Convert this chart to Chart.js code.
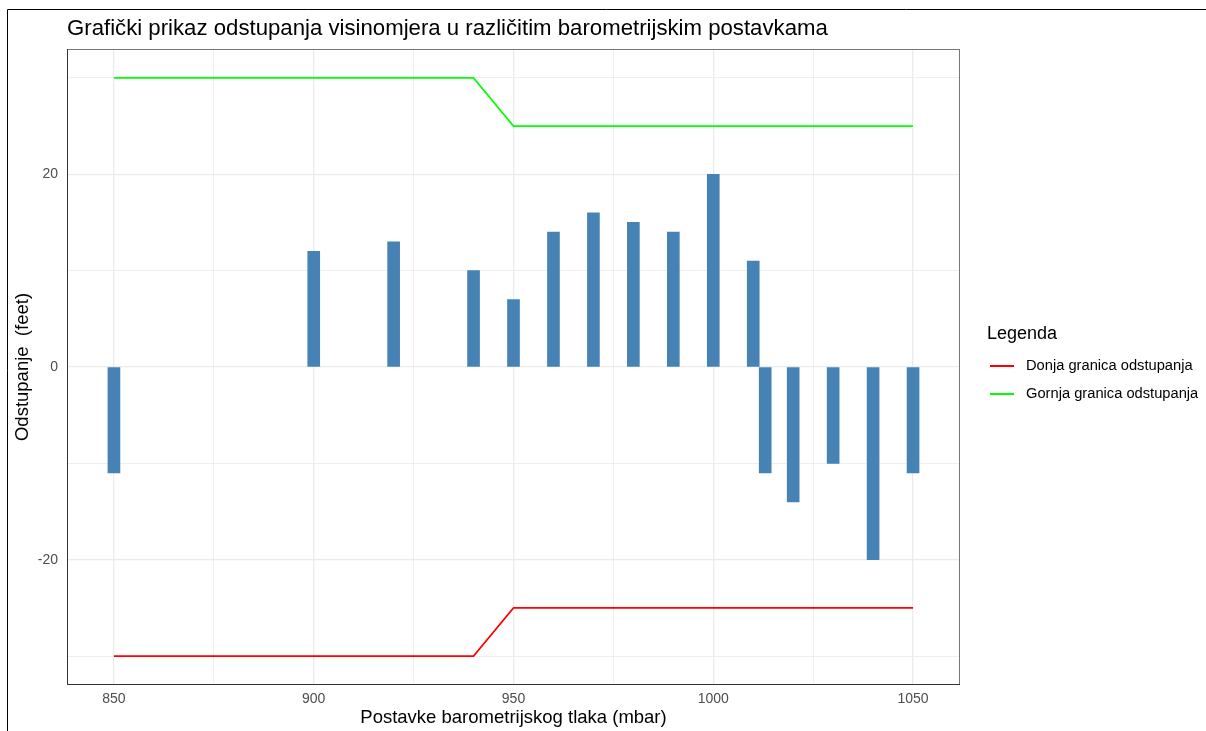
<!DOCTYPE html>
<html>
<head>
<meta charset="utf-8">
<script src="https://cdn.jsdelivr.net/npm/chart.js@4"></script>
<style>
  html, body { margin: 0; padding: 0; background: #fff; }
  #wrap { width: 1206px; height: 731px; position: relative; }
</style>
</head>
<body>
<div id="wrap"><canvas id="myChart" width="1206" height="731"></canvas></div>
<script>
// data
const pressures = [850, 900, 920, 940, 950, 960, 970, 980, 990, 1000, 1010, 1013, 1020, 1030, 1040, 1050];
const deviations = [-11, 12, 13, 10, 7, 14, 16, 15, 14, 20, 11, -11, -14, -10, -20, -11];
const lowerLimit = [-30, -30, -30, -30, -25, -25, -25, -25, -25, -25, -25, -25, -25, -25, -25, -25];
const upperLimit = [30, 30, 30, 30, 25, 25, 25, 25, 25, 25, 25, 25, 25, 25, 25, 25];

const xTicks = [850, 875, 900, 925, 950, 975, 1000, 1025, 1050];
const xLabeled = [850, 900, 950, 1000, 1050];
const yTicks = [-30, -20, -10, 0, 10, 20, 30];
const yLabeled = [-20, 0, 20];

const chartTitle = 'Grafički prikaz odstupanja visinomjera u različitim barometrijskim postavkama';
const xTitle = 'Postavke barometrijskog tlaka (mbar)';
const yTitle = 'Odstupanje  (feet)';
const legendTitle = 'Legenda';
const legendLabels = ['Donja granica odstupanja', 'Gornja granica odstupanja'];
const legendColors = ['#ff0000', '#00ff00'];

const FONT = '"Liberation Sans", Arial, sans-serif';

function pts(ys) {
  return pressures.map((p, i) => ({ x: p, y: ys[i] }));
}

function isMajor(c, list) {
  return c.tick && list.includes(c.tick.value);
}

// title, axis titles, legend and frame
const decorPlugin = {
  id: 'decor',
  beforeDraw(chart) {
    const ctx = chart.ctx;
    ctx.save();
    ctx.fillStyle = '#fff';
    ctx.fillRect(0, 0, chart.width, chart.height);
    ctx.restore();
  },
  afterDraw(chart) {
    const ctx = chart.ctx;
    const a = chart.chartArea;
    ctx.save();

    // panel border
    ctx.strokeStyle = '#777';
    ctx.lineWidth = 1;
    ctx.strokeRect(a.left + 0.5, a.top + 0.5, a.right - a.left - 1, a.bottom - a.top - 1);
    ctx.strokeStyle = '#333';
    ctx.beginPath();
    ctx.moveTo(a.left + 0.5, a.top);
    ctx.lineTo(a.left + 0.5, a.bottom - 0.5);
    ctx.lineTo(a.right, a.bottom - 0.5);
    ctx.stroke();

    // outer frame
    ctx.strokeStyle = '#000';
    ctx.beginPath();
    ctx.moveTo(7.5, chart.height);
    ctx.lineTo(7.5, 9.5);
    ctx.lineTo(chart.width, 9.5);
    ctx.stroke();

    // title
    ctx.fillStyle = '#000';
    ctx.textAlign = 'left';
    ctx.textBaseline = 'middle';
    ctx.font = '22.2px ' + FONT;
    ctx.fillText(chartTitle, 67, 29);

    // x title
    ctx.textAlign = 'center';
    ctx.font = '18.5px ' + FONT;
    ctx.fillText(xTitle, (a.left + a.right) / 2, 718);

    // y title
    ctx.save();
    ctx.translate(23, (a.top + a.bottom) / 2);
    ctx.rotate(-Math.PI / 2);
    ctx.fillText(yTitle, 0, 0);
    ctx.restore();

    // legend
    ctx.textAlign = 'left';
    ctx.font = '18px ' + FONT;
    ctx.fillText(legendTitle, 987, 334);
    ctx.font = '14.7px ' + FONT;
    legendLabels.forEach((lab, i) => {
      const y = 366 + i * 28;
      ctx.strokeStyle = legendColors[i];
      ctx.lineWidth = 2;
      ctx.beginPath();
      ctx.moveTo(990, y);
      ctx.lineTo(1014, y);
      ctx.stroke();
      ctx.fillStyle = '#000';
      ctx.fillText(lab, 1026, y);
    });
    ctx.restore();
  }
};

const ctx = document.getElementById('myChart');
const myChart = new Chart(ctx, {
  type: 'bar',
  data: {
    datasets: [
      {
        type: 'bar',
        label: 'Odstupanje',
        data: pts(deviations),
        backgroundColor: '#4682b4',
        borderWidth: 0,
        barPercentage: 1,
        categoryPercentage: 1,
        order: 2
      },
      {
        type: 'line',
        label: legendLabels[0],
        data: pts(lowerLimit),
        borderColor: legendColors[0],
        borderWidth: 1.6,
        pointRadius: 0,
        tension: 0,
        order: 1
      },
      {
        type: 'line',
        label: legendLabels[1],
        data: pts(upperLimit),
        borderColor: legendColors[1],
        borderWidth: 1.6,
        pointRadius: 0,
        tension: 0,
        order: 1
      }
    ]
  },
  options: {
    responsive: false,
    animation: false,
    layout: { padding: { left: 0, top: 49, right: 246, bottom: 0 } },
    plugins: {
      legend: { display: false },
      tooltip: { enabled: false }
    },
    scales: {
      x: {
        type: 'linear',
        offset: false,
        min: 838.25,
        max: 1061.75,
        afterFit: s => { s.height = 46; },
        afterBuildTicks: s => { s.ticks = xTicks.map(v => ({ value: v })); },
        border: { display: false },
        grid: {
          offset: false,
          drawTicks: false,
          color: '#ebebeb',
          lineWidth: c => isMajor(c, xLabeled) ? 1.3 : 0.8
        },
        ticks: {
          padding: 5.5,
          color: '#4d4d4d',
          font: { family: FONT, size: 14 },
          maxRotation: 0,
          autoSkip: false,
          callback: v => xLabeled.includes(v) ? String(v) : ''
        }
      },
      y: {
        min: -33,
        max: 33,
        afterFit: s => { s.width = 67; },
        afterBuildTicks: s => { s.ticks = yTicks.map(v => ({ value: v })); },
        border: { display: false },
        grid: {
          drawTicks: false,
          color: '#ebebeb',
          lineWidth: c => isMajor(c, yLabeled) ? 1.3 : 0.8
        },
        ticks: {
          padding: 9,
          color: '#4d4d4d',
          font: { family: FONT, size: 14 },
          autoSkip: false,
          callback: v => yLabeled.includes(v) ? String(v) : ''
        }
      }
    }
  },
  plugins: [decorPlugin]
});
</script>
</body>
</html>
